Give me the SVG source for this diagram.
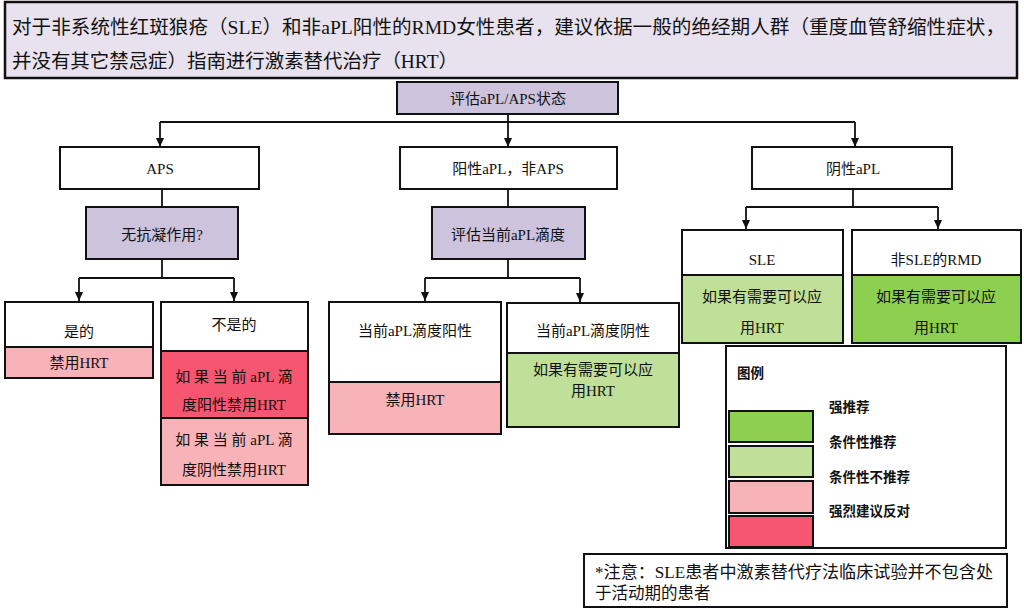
<svg xmlns="http://www.w3.org/2000/svg" width="1024" height="612" viewBox="0 0 1024 612">
<defs>
<marker id="arr" markerWidth="10" markerHeight="10" refX="9" refY="5" orient="auto" markerUnits="userSpaceOnUse">
<path d="M0,1 L9,5 L0,9 Z" fill="#111"/>
</marker>
<style>
text{font-family:"Liberation Serif","Noto Sans CJK SC",serif;fill:#111;}
.t{font-size:15px;text-anchor:middle;}
.box{stroke:#111;stroke-width:2;}
.w{fill:#fff;}
.lav{fill:#cdc3dc;}
.pk{fill:#f7b3b7;}
.rd{fill:#f75670;}
.lg{fill:#c0e09a;}
.sg{fill:#8dcf4f;}
.conn path{fill:none;stroke:#111;stroke-width:1.8;}
.lgd{font-size:13.5px;font-weight:bold;}
</style>
</defs>
<rect width="1024" height="612" fill="#fff"/>

<g id="header">
<rect x="5" y="2" width="1012" height="76" fill="#e8e2ef" stroke="#111" stroke-width="2.5"/>
<text x="12" y="34" font-size="19" textLength="993" lengthAdjust="spacingAndGlyphs">对于非系统性红斑狼疮（SLE）和非aPL阳性的RMD女性患者，建议依据一般的绝经期人群（重度血管舒缩性症状，</text>
<text x="12" y="68" font-size="19" textLength="446" lengthAdjust="spacingAndGlyphs">并没有其它禁忌症）指南进行激素替代治疗（HRT）</text>
</g>

<g id="assess">
<rect class="box lav" x="397" y="82" width="221" height="32" stroke-width="2.5"/>
<text class="t" x="508" y="104">评估aPL/APS状态</text>
</g>

<g class="conn" id="connectors">
<path d="M508,114 V122"/>
<path d="M160,122 H855"/>
<path d="M160,122 V147" marker-end="url(#arr)"/>
<path d="M508,122 V147" marker-end="url(#arr)"/>
<path d="M855,122 V147" marker-end="url(#arr)"/>
<path d="M162,189 V207"/>
<path d="M162,259 V278"/>
<path d="M79,278 H234"/>
<path d="M79,278 V301" marker-end="url(#arr)"/>
<path d="M234,278 V301" marker-end="url(#arr)"/>
<path d="M508,189 V207"/>
<path d="M508,259 V278"/>
<path d="M425,278 H580"/>
<path d="M425,278 V301" marker-end="url(#arr)"/>
<path d="M580,278 V302" marker-end="url(#arr)"/>
<path d="M853,189 V207"/>
<path d="M746,207 H938"/>
<path d="M746,207 V229" marker-end="url(#arr)"/>
<path d="M938,207 V229" marker-end="url(#arr)"/>
</g>

<g id="aps">
<rect class="box w" x="60" y="147" width="199" height="42"/>
<text class="t" x="160" y="174">APS</text>
</g>
<g id="pos-apl">
<rect class="box w" x="400" y="147" width="217" height="42"/>
<text class="t" x="508" y="174">阳性aPL，非APS</text>
</g>
<g id="neg-apl">
<rect class="box w" x="752" y="147" width="200" height="42"/>
<text class="t" x="853" y="174">阴性aPL</text>
</g>

<g id="anticoag">
<rect class="box lav" x="86" y="207" width="152" height="52"/>
<text class="t" x="162" y="240">无抗凝作用?</text>
</g>
<g id="titre">
<rect class="box lav" x="432" y="207" width="153" height="52"/>
<text class="t" x="508" y="240">评估当前aPL滴度</text>
</g>

<g id="sle">
<rect class="box w" x="682" y="230" width="161" height="45"/>
<rect class="box lg" x="682" y="275" width="161" height="68"/>
<text class="t" x="762" y="265">SLE</text>
<text class="t" x="762" y="302">如果有需要可以应</text>
<text class="t" x="762" y="333">用HRT</text>
</g>
<g id="non-sle">
<rect class="box w" x="852" y="230" width="169" height="45"/>
<rect class="box sg" x="852" y="275" width="169" height="68"/>
<text class="t" x="936" y="265">非SLE的RMD</text>
<text class="t" x="936" y="302">如果有需要可以应</text>
<text class="t" x="936" y="333">用HRT</text>
</g>

<g id="yes">
<rect class="box w" x="5" y="302" width="148" height="45"/>
<rect class="box pk" x="5" y="347" width="148" height="31"/>
<text class="t" x="79" y="337">是的</text>
<text class="t" x="79" y="368">禁用HRT</text>
</g>
<g id="no">
<rect class="box w" x="161" y="302" width="147" height="49"/>
<rect class="box rd" x="161" y="351" width="147" height="67"/>
<rect class="box pk" x="161" y="418" width="147" height="67"/>
<text class="t" x="234" y="330">不是的</text>
<text class="t" x="234" y="382" xml:space="preserve">如 果 当 前 aPL 滴</text>
<text class="t" x="234" y="410">度阳性禁用HRT</text>
<text class="t" x="234" y="445" xml:space="preserve">如 果 当 前 aPL 滴</text>
<text class="t" x="234" y="475">度阴性禁用HRT</text>
</g>

<g id="titre-pos">
<rect class="box w" x="329" y="302" width="172" height="80"/>
<rect class="box pk" x="329" y="382" width="172" height="52"/>
<text class="t" x="415" y="336">当前aPL滴度阳性</text>
<text class="t" x="415" y="405">禁用HRT</text>
</g>
<g id="titre-neg">
<rect class="box w" x="507" y="303" width="172" height="50"/>
<rect class="box lg" x="507" y="353" width="172" height="74"/>
<text class="t" x="593" y="336">当前aPL滴度阴性</text>
<text class="t" x="593" y="375">如果有需要可以应</text>
<text class="t" x="593" y="396">用HRT</text>
</g>

<g id="legend">
<rect x="726" y="346" width="280" height="202" fill="#fff" stroke="#111" stroke-width="2"/>
<text class="lgd" x="737" y="378">图例</text>
<rect class="box sg" x="729" y="411" width="84" height="31"/>
<rect class="box lg" x="729" y="446" width="84" height="31"/>
<rect class="box pk" x="729" y="481" width="84" height="32"/>
<rect class="box rd" x="729" y="516" width="84" height="31"/>
<text class="lgd" x="829" y="412">强推荐</text>
<text class="lgd" x="829" y="447">条件性推荐</text>
<text class="lgd" x="829" y="482">条件性不推荐</text>
<text class="lgd" x="829" y="516">强烈建议反对</text>
</g>

<g id="note">
<rect x="584" y="554" width="423" height="53" fill="#fff" stroke="#111" stroke-width="2"/>
<text x="595" y="578" font-size="16.5" textLength="398" lengthAdjust="spacingAndGlyphs">*注意：SLE患者中激素替代疗法临床试验并不包含处</text>
<text x="595" y="599" font-size="16.5">于活动期的患者</text>
</g>
</svg>
